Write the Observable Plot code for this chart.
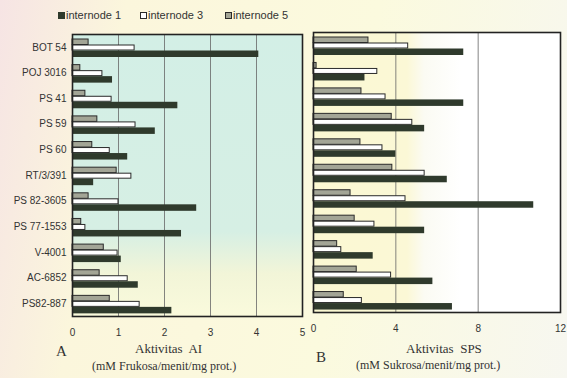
<!DOCTYPE html>
<html><head><meta charset="utf-8">
<script src="https://cdn.jsdelivr.net/npm/d3@7"></script>
<script src="https://cdn.jsdelivr.net/npm/@observablehq/plot@0.6"></script>
<style>
html,body{margin:0;padding:0;}
body{width:567px;height:378px;overflow:hidden;position:relative;
 background:linear-gradient(100deg,#f6e4e4 0%,#fbf6dc 20%,#fbfade 60%,#f7f7f0 100%);}
.abs{position:absolute;}
.lg{font-family:"Liberation Sans",Arial,sans-serif;font-size:11px;color:#333;display:flex;align-items:center;}
.sw{display:inline-block;width:7px;height:7px;margin-right:1px;box-sizing:border-box;border:1.3px solid #333;}
.serif{font-family:"Liberation Serif","DejaVu Serif",serif;color:#333;white-space:nowrap;}
</style></head>
<body>
<div id="bgA" class="abs" style="left:72px;top:34px;width:230px;height:282px;background:linear-gradient(180deg,#d3efe6 0%,#d6efe4 70%,#f2f5d8 85%,#fafadc 100%);"></div>
<div id="bgB" class="abs" style="left:313px;top:32px;width:247px;height:280px;background:linear-gradient(90deg,#fbf8d2 0%,#fbf8d6 38%,#fbfbf3 45%,#ffffff 60%);"></div>
<div id="chartA" class="abs" style="left:0;top:0;"></div>
<div id="chartB" class="abs" style="left:300px;top:0;"></div>
<div id="legend"></div>
<div class="abs serif" style="left:56px;top:343px;font-size:15px;">A</div>
<div class="abs serif" style="left:135px;top:341px;font-size:13px;">Aktivitas&nbsp; AI</div>
<div class="abs serif" style="left:92px;top:359px;font-size:12px;">(mM Frukosa/menit/mg prot.)</div>
<div class="abs serif" style="left:316px;top:349px;font-size:15px;">B</div>
<div class="abs serif" style="left:406px;top:341px;font-size:13px;">Aktivitas&nbsp; SPS</div>
<div class="abs serif" style="left:356px;top:358px;font-size:12px;">(mM Sukrosa/menit/mg prot.)</div>
<script>
const categories = ["BOT 54","POJ 3016","PS 41","PS 59","PS 60","RT/3/391","PS 82-3605","PS 77-1553","V-4001","AC-6852","PS82-887"];
const seriesNames = ["internode 1","internode 3","internode 5"];
const aiInternode1 = [4.05,0.87,2.29,1.80,1.20,0.46,2.70,2.37,1.06,1.43,2.16];
const aiInternode3 = [1.35,0.65,0.85,1.37,0.81,1.28,1.00,0.28,0.98,1.20,1.46];
const aiInternode5 = [0.35,0.17,0.28,0.54,0.43,0.96,0.35,0.19,0.68,0.59,0.81];
const spsInternode1 = [7.3,2.5,7.3,5.4,4.0,6.5,10.7,5.4,2.9,5.8,6.75];
const spsInternode3 = [4.6,3.1,3.5,4.8,3.35,5.4,4.47,2.96,1.35,3.77,2.35];
const spsInternode5 = [2.67,0.15,2.33,3.8,2.28,3.83,1.8,2.0,1.15,2.1,1.47];
const aiTicks = [0,1,2,3,4,5];
const spsTicks = [0,4,8,12];

const toRows = arr => categories.map((c,i)=>({cat:c,v:arr[i]}));
const dark="#2f3a2c", grey="#a3a596", edge="#2a2a2a";

function panel({s1,s3,s5,domain,ticks,width,height,ml,mr,mt,mb,showY}){
  const step=(height-mt-mb)/categories.length;
  const bar=(arr,fill,top,bot,stroke)=>Plot.barX(toRows(arr),{x:"v",y:"cat",fill,stroke,strokeWidth:stroke?1:0,
    insetTop:top,insetBottom:step-bot});
  return Plot.plot({
    width,height,marginLeft:ml,marginRight:mr,marginTop:mt,marginBottom:mb,
    style:{background:"transparent",fontFamily:"Liberation Sans, Arial, sans-serif",fontSize:"10px",color:"#333",overflow:"visible"},
    x:{domain,ticks,tickSize:0,tickPadding:12,label:null,tickFormat:d3.format("d")},
    y:{domain:categories,padding:0,round:false,label:null,tickSize:0,tickPadding:6,axis:showY?"left":null},
    marks:[
      Plot.ruleX(ticks.slice(1,-1),{stroke:"#666",strokeWidth:0.8}),
      bar(s5,grey,5,10.5,edge),
      bar(s3,"#fff",11,16,edge),
      bar(s1,dark,16.5,23,null),
      Plot.frame({stroke:"#222",strokeWidth:1.6})
    ]
  });
}

document.getElementById("chartA").appendChild(panel({s1:aiInternode1,s3:aiInternode3,s5:aiInternode5,
  domain:[0,5],ticks:aiTicks,width:305,height:345,ml:72,mr:3,mt:34,mb:29,showY:true}));
document.getElementById("chartB").appendChild(panel({s1:spsInternode1,s3:spsInternode3,s5:spsInternode5,
  domain:[0,12],ticks:spsTicks,width:267,height:342,ml:13,mr:7,mt:32,mb:30,showY:false}));

const lg=document.getElementById("legend");
const sw=[{l:58,bg:dark,b:dark},{l:140,bg:"#fff",b:edge},{l:225,bg:grey,b:edge}];
seriesNames.forEach((n,i)=>{
  const d=document.createElement("div");
  d.className="abs lg";d.style.left=sw[i].l+"px";d.style.top="9px";
  d.innerHTML=`<span class="sw" style="background:${sw[i].bg};border-color:${sw[i].b}"></span>${n}`;
  lg.appendChild(d);
});
</script>
</body></html>
